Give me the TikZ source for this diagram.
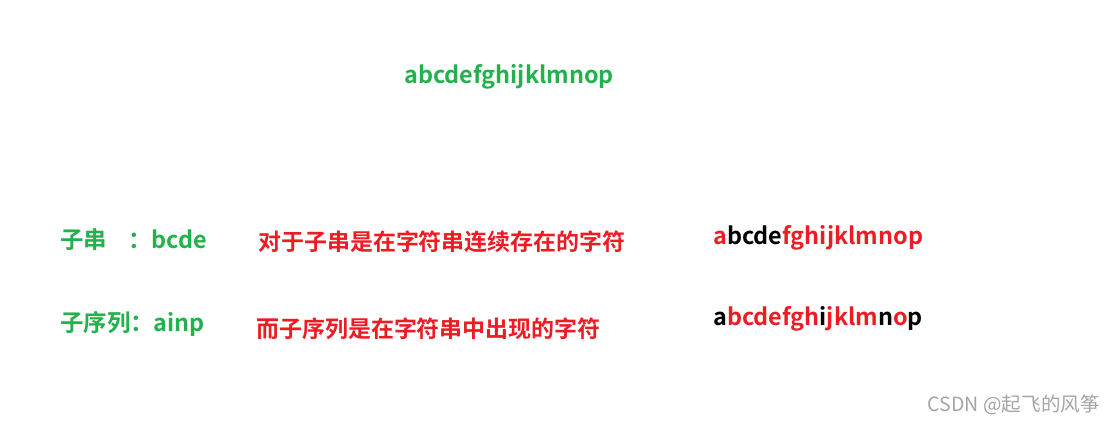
\documentclass[tikz,border=0pt]{standalone}
\usepackage{fontspec}
\setmainfont{Noto Sans CJK SC}[BoldFont={* Bold}]
\newfontfamily\markfont{Noto Sans CJK SC}
\definecolor{pgreen}{RGB}{34,177,76}
\definecolor{pred}{RGB}{237,28,36}
\definecolor{pgray}{RGB}{165,165,165}
\tikzset{
	txt/.style = {anchor=base west, inner sep=0pt, font=\bfseries\fontsize{20}{24}\selectfont},
	grn/.style = {txt, text=pgreen},
	rd/.style  = {txt, text=pred, font=\bfseries\fontsize{19.6}{24}\selectfont}
}
\newcommand{\R}[1]{\textcolor{pred}{#1}}
\newcommand{\K}[1]{\textcolor{black}{#1}}

\begin{document}
\begin{tikzpicture}[x=0.03cm, y=-0.03cm]
	\useasboundingbox (0,0) rectangle (1115,424);
	% the whole string
	\node[grn] (str) at (404,83) {abcdefghijklmnop};
	% substring
	\node[grn] (sub) at (60,248) {子串\hspace{0.9em}：bcde};
	\node[rd] (subdef) at (258,250) {对于子串是在字符串连续存在的字符};
	\node[txt] (subex) at (713,244) {\R{a}\K{bcde}\R{fghijklmnop}};
	% subsequence
	\node[grn] (seq) at (60,331) {子序列：ainp};
	\node[rd] (seqdef) at (256,337) {而子序列是在字符串中出现的字符};
	\node[txt] (seqex) at (713,325) {\K{a}\R{bcdefgh}\K{i}\R{jklm}\K{n}\R{o}\K{p}};
	% watermark
	\node[anchor=base east, inner sep=0pt, text=pgray, font=\markfont\fontsize{16.7}{20}\selectfont] (mark) at (1100,411) {CSDN @起飞的风筝};
\end{tikzpicture}
\end{document}
